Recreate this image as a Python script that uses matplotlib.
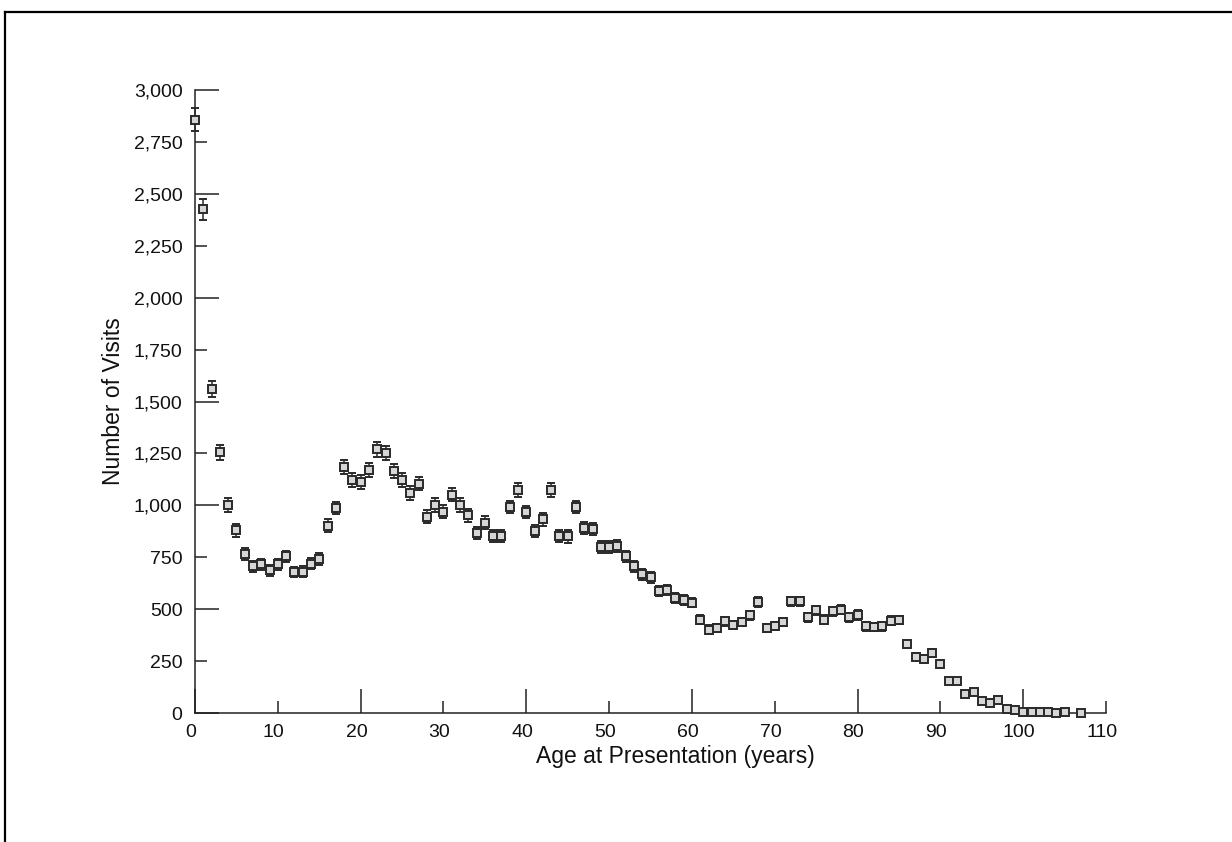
import matplotlib
matplotlib.use("Agg")
import matplotlib.pyplot as plt
from matplotlib.lines import Line2D
from matplotlib.ticker import FixedLocator, FuncFormatter
from matplotlib.transforms import ScaledTranslation

# ------------------ Data ------------------

ages = list(range(0, 106)) + [107]

visits = [
    2857, 2425, 1560, 1255, 1001, 879, 765, 706, 717, 687,
    717, 754, 679, 680, 719, 742, 902, 987, 1184, 1123,
    1114, 1171, 1269, 1253, 1165, 1123, 1060, 1105, 946, 1002,
    969, 1052, 1002, 953, 869, 917, 853, 853, 992, 1075,
    968, 877, 932, 1075, 854, 850, 992, 892, 886, 799,
    799, 805, 754, 706, 667, 654, 589, 593, 554, 545,
    532, 450, 402, 410, 442, 424, 438, 471, 534, 409,
    420, 438, 537, 537, 460, 494, 450, 490, 497, 461,
    472, 417, 415, 417, 444, 448, 330, 271, 262, 289,
    235, 152, 152, 92, 99, 59, 48, 61, 21, 16,
    6, 6, 6, 6, 1, 6, 1,
]

errors = [
    54, 49, 40, 35, 32, 30, 28, 27, 27, 26,
    27, 27, 26, 26, 27, 27, 30, 31, 34, 34,
    33, 34, 36, 35, 34, 34, 33, 33, 31, 32,
    31, 32, 32, 31, 29, 30, 29, 29, 31, 33,
    31, 30, 31, 33, 29, 29, 31, 30, 30, 28,
    28, 28, 27, 27, 26, 26, 24, 24, 24, 23,
    23, 21, 20, 20, 21, 21, 21, 22, 23, 20,
    20, 21, 23, 23, 21, 22, 21, 22, 22, 21,
    22, 20, 20, 20, 21, 21, 18, 16, 16, 17,
    15, 12, 12, 10, 10, 8, 7, 8, 5, 4,
    2, 2, 2, 2, 1, 2, 1,
]

x_long_ticks = [0, 20, 40, 60, 80, 100]
x_short_ticks = [10, 30, 50, 70, 90, 110]
y_long_ticks = [0, 500, 1000, 1500, 2000, 2500, 3000]
y_short_ticks = [250, 750, 1250, 1750, 2250, 2750]

# ------------------ Plot ------------------

plt.rcParams["font.family"] = ["Liberation Sans", "DejaVu Sans"]
ink = "#222222"

fig = plt.figure(figsize=(12.32, 8.42), dpi=100)
ax = fig.add_axes([0.1583, 0.1532, 0.7395, 0.7399])

ax.errorbar(ages, visits, yerr=errors, fmt="s", ms=5.8, mfc="#d6d6d6",
            mec="#2a2a2a", mew=1.4, ecolor="#2a2a2a", elinewidth=1.1,
            capsize=2.6, capthick=1.1, clip_on=False, zorder=3)

ax.set_xlim(0, 110)
ax.set_ylim(0, 3000)

for side in ["top", "right"]:
    ax.spines[side].set_visible(False)
for side in ["left", "bottom"]:
    ax.spines[side].set_color(ink)
    ax.spines[side].set_linewidth(1.1)

comma = FuncFormatter(lambda v, p: f"{int(v):,}")
ax.xaxis.set_major_locator(FixedLocator(x_long_ticks))
ax.xaxis.set_minor_locator(FixedLocator(x_short_ticks))
ax.xaxis.set_major_formatter(comma)
ax.xaxis.set_minor_formatter(comma)
ax.yaxis.set_major_locator(FixedLocator(y_long_ticks))
ax.yaxis.set_minor_locator(FixedLocator(y_short_ticks))
ax.yaxis.set_major_formatter(comma)
ax.yaxis.set_minor_formatter(comma)

ax.tick_params(which="both", direction="in", color=ink, width=1.1,
               labelsize=14, labelcolor="#111111")
ax.tick_params(axis="x", which="both", pad=8)
ax.tick_params(axis="y", which="both", pad=9)
ax.tick_params(which="major", length=17)
ax.tick_params(which="minor", length=8.6)

# tick labels sit a little left of their ticks in the original
shift = ScaledTranslation(-3 / 72, 0, fig.dpi_scale_trans)
for lab in ax.get_xticklabels(which="both"):
    lab.set_transform(lab.get_transform() + shift)

ax.set_xlabel("Age at Presentation (years)", fontsize=16.5, color="#111111",
              labelpad=3)
ax.xaxis.label.set_x(0.527)
ax.set_ylabel("Number of Visits", fontsize=16.5, color="#111111", labelpad=6)

# scanned page border (left and top edges)
fig.add_artist(Line2D([5 / 1232, 5 / 1232], [0, 1 - 12 / 842], color="black",
                      lw=1.6, transform=fig.transFigure))
fig.add_artist(Line2D([5 / 1232, 1], [1 - 12 / 842, 1 - 12 / 842], color="black",
                      lw=1.6, transform=fig.transFigure))

fig.savefig("out.png", dpi=100)
